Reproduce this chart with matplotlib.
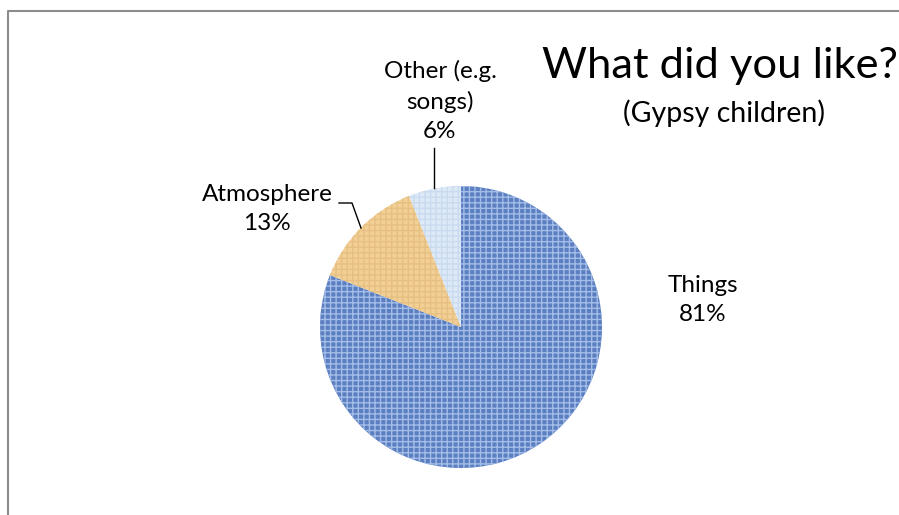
import matplotlib.pyplot as plt
from matplotlib.lines import Line2D

labels = ['Things', 'Atmosphere', 'Other (e.g.\nsongs)']
values = [81, 13, 6]
colors = ['#5b7fc0', '#f2cf95', '#dde9f6']
hatch_colors = ['#a3bde8', '#e6c083', '#cadbef']

W, H = 899, 515
plt.rcParams['font.family'] = ['Lato', 'DejaVu Sans']
plt.rcParams['hatch.linewidth'] = 1.0

fig = plt.figure(figsize=(W/100, H/100), dpi=100, facecolor='white')

def fx(x):
    return x / W

def fy(y):
    return 1 - y / H

# pie centre and radius in pixels
cx, cy, r = 461, 327, 141
ax = fig.add_axes([fx(cx - r), fy(cy + r), 2*r/W, 2*r/H])
wedges, _ = ax.pie(values, colors=colors, startangle=90, counterclock=False,
                   wedgeprops=dict(linewidth=0))
for w, hc in zip(wedges, hatch_colors):
    w.set_hatch('+++')
    w.set_edgecolor(hc)
    w.set_linewidth(0)
ax.set_xlim(-1, 1)
ax.set_ylim(-1, 1)

# outer frame (only top and left edges visible)
fig.add_artist(Line2D([fx(8), fx(8), 1.0], [0.0, fy(11), fy(11)],
                      color='#8c8c8c', lw=1.5, transform=fig.transFigure))

fig.text(fx(720), fy(78), 'What did you like?', fontsize=31.3, ha='center', va='baseline')
fig.text(fx(724), fy(122), '(Gypsy children)', fontsize=20.5, ha='center', va='baseline')

fmt = lambda i: '%s\n%d%%' % (labels[i], values[i])
kw = dict(fontsize=17.5, ha='center', va='center', linespacing=1.5)
fig.text(fx(703), fy(300), fmt(0), **kw)
fig.text(fx(267), fy(209), fmt(1), **kw)
fig.text(fx(440), fy(101), fmt(2), **kw)

# leader lines
fig.add_artist(Line2D([fx(339), fx(352), fx(361)], [fy(203), fy(203), fy(228)],
                      color='black', lw=1, transform=fig.transFigure))
fig.add_artist(Line2D([fx(434), fx(434)], [fy(148), fy(188)],
                      color='black', lw=1, transform=fig.transFigure))

fig.savefig('out.png', dpi=100, facecolor='white')
